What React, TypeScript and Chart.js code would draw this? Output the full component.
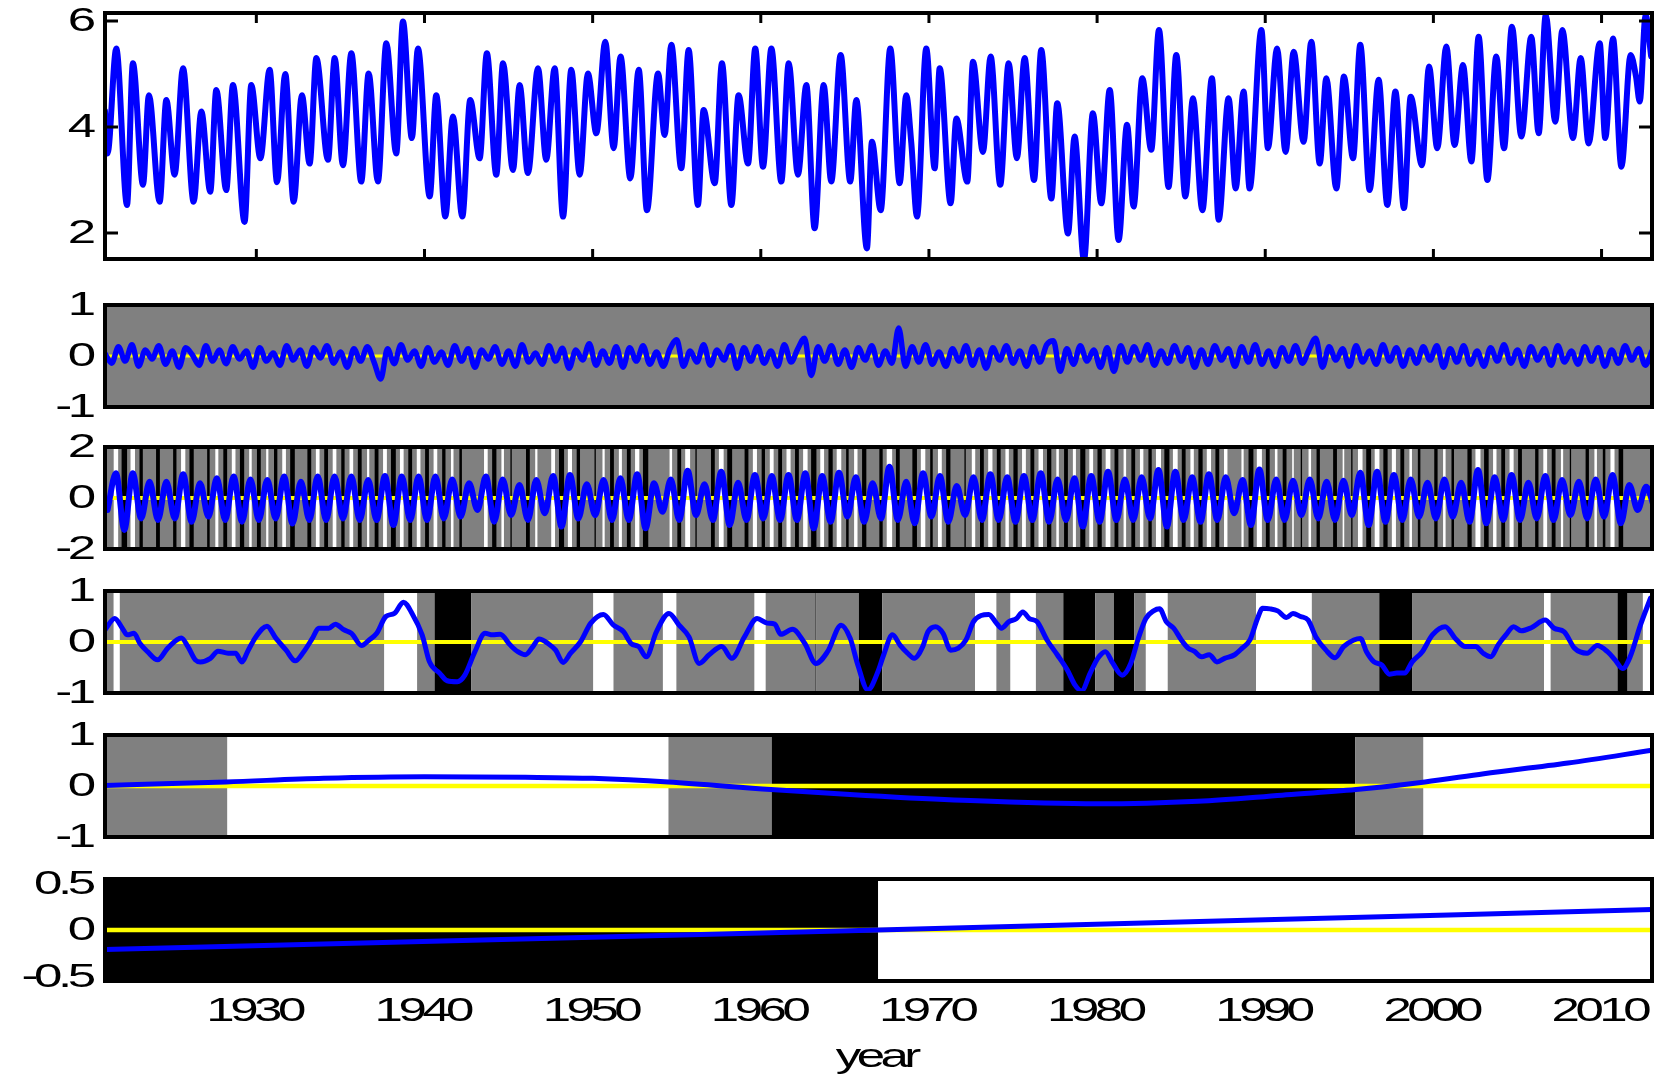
import React, { useEffect, useRef } from "react";
import { Chart, registerables } from "chart.js";

Chart.register(...registerables);

// ---------------- shared x axis ----------------
const X_MIN = 1921.0;
const X_MAX = 2013.0;
const X_TICKS = [1930, 1940, 1950, 1960, 1970, 1980, 1990, 2000, 2010];
const X_TICK_LABELS = ["1930", "1940", "1950", "1960", "1970", "1980", "1990", "2000", "2010"];
const X_TITLE = "year";

// ---------------- panel 1: original series (year, value) ----------------
const P1_POINTS: [number, number][] = [
  [1921.0, 4.3], [1921.15, 3.5], [1921.67, 5.48], [1922.31, 2.53], [1922.66, 5.2], [1923.26, 2.91], [1923.61, 4.6], [1924.25, 2.59], [1924.65, 4.51], [1925.14, 3.1],
  [1925.64, 5.11], [1926.27, 2.59], [1926.73, 4.29], [1927.26, 2.78], [1927.62, 4.7], [1928.21, 2.81], [1928.61, 4.79], [1929.3, 2.21], [1929.7, 4.79], [1930.24, 3.41],
  [1930.79, 5.08], [1931.23, 2.96], [1931.72, 5.0], [1932.22, 2.59], [1932.71, 4.6], [1933.17, 3.31], [1933.57, 5.3], [1934.26, 3.38], [1934.66, 5.3], [1935.15, 3.28],
  [1935.65, 5.39], [1936.24, 2.97], [1936.68, 5.01], [1937.23, 2.97], [1937.73, 5.58], [1938.32, 3.5], [1938.72, 5.99], [1939.25, 3.79], [1939.61, 5.48], [1940.31, 2.69],
  [1940.7, 4.6], [1941.24, 2.31], [1941.69, 4.2], [1942.25, 2.31], [1942.72, 4.51], [1943.28, 3.41], [1943.71, 5.39], [1944.27, 3.1], [1944.67, 5.2], [1945.26, 3.19],
  [1945.66, 4.79], [1946.15, 3.13], [1946.75, 5.11], [1947.24, 3.38], [1947.74, 5.11], [1948.24, 2.31], [1948.73, 5.08], [1949.23, 3.1], [1949.72, 5.01], [1950.22, 3.88],
  [1950.75, 5.61], [1951.25, 3.6], [1951.66, 5.33], [1952.24, 3.03], [1952.74, 5.08], [1953.23, 2.43], [1953.89, 5.01], [1954.28, 3.85], [1954.68, 5.55], [1955.27, 3.22],
  [1955.71, 5.45], [1956.26, 2.53], [1956.6, 4.32], [1957.26, 2.94], [1957.69, 5.2], [1958.25, 2.53], [1958.68, 4.6], [1959.24, 3.31], [1959.67, 5.48], [1960.13, 3.25],
  [1960.63, 5.48], [1961.22, 2.97], [1961.66, 5.2], [1962.21, 3.1], [1962.71, 4.79], [1963.2, 2.09], [1963.74, 4.79], [1964.19, 2.97], [1964.75, 5.36], [1965.32, 2.97],
  [1965.68, 4.51], [1966.31, 1.71], [1966.61, 3.72], [1967.13, 2.43], [1967.7, 5.48], [1968.26, 2.94], [1968.65, 4.6], [1968.95, 3.7], [1969.29, 2.31], [1969.84, 5.48],
  [1970.34, 3.22], [1970.64, 5.11], [1971.29, 2.56], [1971.63, 4.16], [1972.28, 2.97], [1972.62, 5.23], [1973.21, 3.53], [1973.67, 5.33], [1974.24, 2.91], [1974.74, 5.2],
  [1975.23, 3.41], [1975.69, 5.3], [1976.25, 3.0], [1976.68, 5.45], [1977.28, 2.65], [1977.63, 4.45], [1978.27, 1.99], [1978.66, 3.82], [1979.22, 1.49], [1979.75, 4.26],
  [1980.25, 2.56], [1980.75, 4.7], [1981.28, 1.87], [1981.78, 4.04], [1982.17, 2.5], [1982.69, 4.92], [1983.22, 3.57], [1983.68, 5.83], [1984.25, 2.87], [1984.71, 5.36],
  [1985.25, 2.69], [1985.7, 4.54], [1986.26, 2.43], [1986.83, 4.92], [1987.23, 2.25], [1987.82, 4.54], [1988.24, 2.84], [1988.71, 4.67], [1989.07, 2.84], [1989.77, 5.83],
  [1990.16, 3.6], [1990.7, 5.48], [1991.21, 3.53], [1991.69, 5.42], [1992.28, 3.72], [1992.74, 5.61], [1993.24, 3.31], [1993.63, 4.92], [1994.23, 2.84], [1994.68, 4.95],
  [1995.22, 3.41], [1995.65, 5.55], [1996.21, 2.81], [1996.74, 4.89], [1997.26, 2.53], [1997.74, 4.67], [1998.25, 2.47], [1998.65, 4.57], [1999.32, 3.28], [1999.74, 5.14],
  [2000.23, 3.6], [2000.77, 5.52], [2001.26, 3.66], [2001.76, 5.17], [2002.26, 3.35], [2002.69, 5.7], [2003.21, 3.0], [2003.74, 5.33], [2004.2, 3.6], [2004.67, 5.89],
  [2005.23, 3.82], [2005.82, 5.7], [2006.26, 3.88], [2006.68, 6.11], [2007.25, 4.1], [2007.67, 5.83], [2008.3, 3.79], [2008.76, 5.3], [2009.23, 3.69], [2009.89, 5.58],
  [2010.22, 3.79], [2010.68, 5.67], [2011.18, 3.25], [2011.73, 5.36], [2012.05, 4.95], [2012.27, 4.48], [2012.62, 6.11], [2012.95, 5.33],
];
const P1_Y_TICKS = [2, 4, 6];
const P1_Y_LABELS = ["2", "4", "6"];

// ---------------- panel 2: high-frequency component (regular sampling) ----------------
const P2_START = 1921.0;
const P2_STEP = 0.4;
const P2_VALUES = [
  0.05, -0.14, 0.18, -0.1, 0.22, -0.2, 0.12, -0.06, 0.2, -0.16,
  0.1, -0.22, 0.16, 0.02, -0.18, 0.2, -0.1, 0.12, -0.15, 0.18,
  -0.06, 0.1, -0.22, 0.16, -0.1, 0.06, -0.18, 0.2, -0.08, 0.12,
  -0.2, 0.16, -0.04, 0.2, -0.14, 0.08, -0.22, 0.14, -0.1, 0.18,
  -0.12, -0.45, 0.14, -0.15, 0.22, -0.08, 0.1, -0.2, 0.16, -0.12,
  0.08, -0.18, 0.2, -0.1, 0.14, -0.22, 0.12, -0.06, 0.18, -0.16,
  0.1, -0.2, 0.22, -0.12, 0.06, -0.16, 0.2, -0.1, 0.15, -0.24,
  0.12, -0.08, 0.24, -0.18, 0.1, -0.14, 0.18, -0.22, 0.16, -0.1,
  0.2, -0.16, 0.08, -0.2, 0.14, 0.32, -0.2, 0.1, -0.12, 0.22,
  -0.18, 0.12, -0.08, 0.2, -0.24, 0.16, -0.1, 0.18, -0.14, 0.1,
  -0.2, 0.22, -0.12, 0.14, 0.35, -0.38, 0.18, -0.1, 0.2, -0.16,
  0.12, -0.22, 0.16, -0.08, 0.2, -0.18, 0.1, -0.14, 0.55, -0.2,
  0.18, -0.12, 0.22, -0.16, 0.08, -0.2, 0.14, -0.1, 0.2, -0.18,
  0.12, -0.24, 0.16, -0.08, 0.2, -0.14, 0.1, -0.2, 0.18, -0.12,
  0.22, 0.3, -0.3, 0.14, -0.16, 0.2, -0.1, 0.12, -0.22, 0.16,
  -0.3, 0.2, -0.12, 0.18, -0.08, 0.22, -0.18, 0.1, -0.14, 0.2,
  -0.1, 0.16, -0.22, 0.12, -0.16, 0.2, -0.08, 0.14, -0.2, 0.18,
  -0.12, 0.22, -0.16, 0.1, -0.2, 0.16, -0.1, 0.2, -0.14, 0.12,
  0.35, -0.22, 0.18, -0.08, 0.14, -0.2, 0.2, -0.12, 0.1, -0.16,
  0.22, -0.1, 0.16, -0.2, 0.12, -0.14, 0.18, -0.08, 0.2, -0.22,
  0.14, -0.12, 0.2, -0.16, 0.1, -0.2, 0.16, -0.1, 0.22, -0.14,
  0.12, -0.2, 0.18, -0.08, 0.14, -0.18, 0.2, -0.12, 0.1, -0.16,
  0.18, -0.1, 0.16, -0.2, 0.12, -0.14, 0.2, -0.08, 0.14, -0.18,
  0.1,
];
const P2_Y_TICKS = [-1, 0, 1];
const P2_Y_LABELS = ["-1", "0", "1"];
const P2_BAND_EDGES = [1921.0, 2013.0];
const P2_BAND_CLASS = [0];

// ---------------- panel 3: annual component (trough, peak per year) ----------------
const P3_START = 1921.15;
const P3_STEP = 0.5;
const P3_VALUES = [
  -0.47, 0.97, -1.25, 0.97, -0.8, 0.64, -0.86, 0.64, -0.8, 0.93,
  -0.93, 0.58, -0.73, 0.77, -0.86, 0.84, -0.93, 0.73, -0.86, 0.71,
  -0.8, 0.84, -1.0, 0.64, -0.86, 0.84, -0.86, 0.84, -0.8, 0.84,
  -0.86, 0.71, -0.86, 0.86, -1.06, 0.84, -0.86, 0.84, -0.86, 0.84,
  -0.8, 0.73, -0.73, 0.58, -0.47, 0.84, -0.93, 0.73, -0.67, 0.51,
  -0.86, 0.71, -0.6, 0.86, -1.12, 0.9, -0.8, 0.54, -0.67, 0.71,
  -0.86, 0.77, -0.86, 0.93, -1.19, 0.58, -0.54, 0.73, -0.86, 1.07,
  -0.67, 0.54, -0.86, 1.03, -1.06, 0.6, -0.86, 0.9, -0.8, 0.86,
  -0.86, 0.9, -0.86, 0.97, -1.19, 0.86, -0.93, 0.99, -0.73, 0.81,
  -0.93, 0.58, -0.8, 1.23, -0.86, 0.64, -0.99, 0.97, -0.73, 0.86,
  -0.93, 0.47, -0.67, 0.81, -0.86, 0.93, -0.86, 0.81, -0.93, 0.86,
  -0.86, 0.97, -0.93, 0.73, -0.86, 0.77, -1.12, 0.86, -0.93, 1.03,
  -0.86, 0.73, -0.86, 0.81, -0.8, 1.1, -1.12, 1.03, -0.86, 0.81,
  -0.93, 0.93, -0.86, 0.81, -0.6, 0.71, -1.06, 1.12, -0.86, 0.73,
  -0.86, 0.68, -0.67, 0.73, -0.8, 0.64, -0.86, 0.68, -0.67, 0.99,
  -1.06, 1.03, -0.93, 0.9, -0.86, 0.73, -0.73, 0.6, -0.8, 0.73,
  -0.73, 0.6, -0.93, 1.1, -0.99, 0.81, -0.86, 0.9, -0.86, 0.6,
  -0.8, 0.86, -0.86, 0.71, -0.67, 0.64, -0.8, 0.73, -0.73, 0.9,
  -0.99, 0.51, -0.47, 0.44, -0.41,
];
const P3_THRESHOLD = 0.65;
const P3_Y_TICKS = [-2, 0, 2];
const P3_Y_LABELS = ["-2", "0", "2"];

// ---------------- panel 4: interannual component ----------------
const P4_POINTS: [number, number][] = [
  [1921.0, 0.24], [1921.58, 0.46], [1922.03, 0.27], [1922.33, 0.14], [1922.72, 0.17], [1923.08, -0.03], [1923.53, -0.19], [1924.13, -0.35], [1924.73, -0.12], [1925.54, 0.08],
  [1925.93, -0.09], [1926.37, -0.35], [1926.67, -0.39], [1927.27, -0.32], [1927.72, -0.18], [1928.32, -0.22], [1928.77, -0.22], [1929.13, -0.39], [1929.52, -0.16], [1929.97, 0.1],
  [1930.63, 0.31], [1931.17, 0.07], [1931.77, -0.16], [1932.31, -0.37], [1932.82, -0.19], [1933.33, 0.07], [1933.71, 0.27], [1934.31, 0.27], [1934.7, 0.35], [1935.21, 0.24],
  [1935.66, 0.17], [1936.26, -0.07], [1936.71, 0.04], [1937.16, 0.17], [1937.7, 0.5], [1938.21, 0.56], [1938.75, 0.78], [1939.26, 0.56], [1939.86, 0.14], [1940.3, -0.39],
  [1940.9, -0.61], [1941.35, -0.76], [1941.95, -0.78], [1942.4, -0.65], [1943.0, -0.19], [1943.6, 0.17], [1944.05, 0.14], [1944.5, 0.15], [1945.1, -0.06], [1945.55, -0.19],
  [1946.0, -0.25], [1946.45, -0.09], [1946.81, 0.06], [1947.35, -0.03], [1947.8, -0.16], [1948.24, -0.4], [1948.69, -0.22], [1949.29, 0.01], [1949.89, 0.37], [1950.64, 0.54],
  [1951.24, 0.33], [1951.84, 0.2], [1952.29, -0.03], [1952.74, -0.09], [1953.19, -0.29], [1953.79, 0.2], [1954.54, 0.56], [1955.14, 0.33], [1955.73, 0.1], [1956.33, -0.42],
  [1956.93, -0.25], [1957.68, -0.09], [1958.28, -0.32], [1959.03, 0.1], [1959.78, 0.46], [1960.38, 0.37], [1960.83, 0.35], [1961.19, 0.15], [1961.88, 0.25], [1962.62, -0.03],
  [1963.28, -0.42], [1963.97, -0.19], [1964.78, 0.33], [1965.32, 0.07], [1965.77, -0.45], [1966.37, -0.94], [1966.97, -0.58], [1967.31, -0.25], [1967.83, 0.14], [1968.28, -0.06],
  [1968.73, -0.22], [1969.12, -0.32], [1969.63, -0.09], [1969.94, 0.2], [1970.39, 0.3], [1970.84, 0.17], [1971.29, -0.16], [1971.75, -0.12], [1972.2, 0.04], [1972.65, 0.4],
  [1973.1, 0.52], [1973.56, 0.54], [1974.01, 0.37], [1974.31, 0.27], [1974.76, 0.4], [1975.21, 0.46], [1975.58, 0.59], [1975.97, 0.46], [1976.42, 0.4], [1977.02, 0.04],
  [1977.63, -0.25], [1978.23, -0.55], [1978.68, -0.84], [1979.07, -0.96], [1979.59, -0.61], [1980.04, -0.32], [1980.49, -0.19], [1980.94, -0.42], [1981.49, -0.65], [1982.0, -0.42],
  [1982.45, 0.07], [1982.9, 0.46], [1983.36, 0.61], [1983.72, 0.65], [1984.11, 0.4], [1984.56, 0.27], [1985.01, 0.04], [1985.41, -0.12], [1985.77, -0.18], [1986.22, -0.29],
  [1986.67, -0.25], [1987.13, -0.39], [1987.58, -0.32], [1988.18, -0.25], [1988.63, -0.12], [1989.09, 0.04], [1989.54, 0.46], [1989.84, 0.66], [1990.29, 0.65], [1990.74, 0.61],
  [1991.26, 0.48], [1991.65, 0.56], [1992.1, 0.5], [1992.55, 0.43], [1993.01, 0.1], [1993.61, -0.16], [1994.15, -0.31], [1994.66, -0.09], [1995.27, 0.04], [1995.66, 0.07],
  [1996.02, -0.19], [1996.47, -0.39], [1996.93, -0.45], [1997.38, -0.63], [1997.83, -0.61], [1998.28, -0.61], [1998.74, -0.39], [1999.34, -0.19], [1999.94, 0.14], [2000.7, 0.3],
  [2001.3, 0.07], [2001.9, -0.09], [2002.51, -0.09], [2002.96, -0.22], [2003.41, -0.29], [2003.86, -0.05], [2004.31, 0.14], [2004.77, 0.3], [2005.22, 0.22], [2005.82, 0.28],
  [2006.64, 0.43], [2007.18, 0.27], [2007.78, 0.2], [2008.39, -0.12], [2009.14, -0.22], [2009.74, -0.07], [2010.35, -0.19], [2010.8, -0.35], [2011.25, -0.52], [2011.7, -0.29],
  [2012.31, 0.33], [2012.91, 0.86],
];
const P4_Y_TICKS = [-1, 0, 1];
const P4_Y_LABELS = ["-1", "0", "1"];
const P4_BAND_EDGES = [
  1921.0, 1921.52, 1921.88, 1937.61, 1939.56, 1940.6, 1942.79, 1950.04, 1951.24, 1954.18,
  1954.98, 1959.63, 1960.29, 1963.25, 1963.31, 1965.83, 1967.22, 1972.74, 1974.01, 1974.85,
  1976.36, 1977.99, 1979.89, 1981.0, 1982.21, 1982.9, 1984.2, 1989.45, 1992.77, 1996.78,
  1998.73, 2006.58, 2006.97, 2010.95, 2011.55, 2012.46, 2013.0,
];
const P4_BAND_CLASS = [
  0, 1, 0, 1, 0, -1, 0, 1, 0, 1,
  0, 1, 0, -1, 0, -1, 0, 1, 0, 1,
  0, -1, 0, -1, 0, 1, 0, 1, 0, -1,
  0, 1, 0, -1, 0, 1,
];

// ---------------- panel 5: decadal component ----------------
const P5_POINTS: [number, number][] = [
  [1921.0, 0.01], [1928.2, 0.08], [1934.0, 0.15], [1940.0, 0.18], [1946.0, 0.17], [1950.0, 0.15], [1954.5, 0.08], [1960.6, -0.07], [1966.0, -0.18],
  [1972.0, -0.28], [1980.0, -0.35], [1986.0, -0.3], [1991.0, -0.18], [1995.4, -0.07], [1999.5, 0.08], [2003.0, 0.24], [2008.0, 0.45], [2013.0, 0.7],
];
const P5_Y_TICKS = [-1, 0, 1];
const P5_Y_LABELS = ["-1", "0", "1"];
const P5_BAND_EDGES = [1921.0, 1928.28, 1954.51, 1960.65, 1995.36, 1999.41, 2013.0];
const P5_BAND_CLASS = [0, 1, 0, -1, 0, 1];

// ---------------- panel 6: trend ----------------
const P6_POINTS: [number, number][] = [
  [1921.0, -0.21], [1944.0, -0.105], [1967.0, 0.0], [1990.0, 0.11], [2013.0, 0.22],
];
const P6_Y_TICKS = [-0.5, 0, 0.5];
const P6_Y_LABELS = ["-0.5", "0", "0.5"];
const P6_BAND_EDGES = [1921.0, 1966.98, 2013.0];
const P6_BAND_CLASS = [-1, 1];

// ---------------- helpers ----------------
type Band = { from: number; to: number; cls: number };

function bandsFromEdges(edges: number[], classes: number[]): Band[] {
  return classes.map((c, i) => ({ from: edges[i], to: edges[i + 1], cls: c }));
}

// stripes where the annual cycle exceeds the threshold around each extreme
function stripesFromExtremes(start: number, step: number, values: number[], thr: number): Band[] {
  const out: Band[] = [];
  values.forEach((v, i) => {
    const a = Math.abs(v);
    if (a > thr) {
      const half = Math.acos(thr / a) / (2 * Math.PI);
      const x = start + i * step;
      out.push({ from: x - half, to: x + half, cls: v > 0 ? 1 : -1 });
    }
  });
  return out;
}

const toXY = (pts: [number, number][]) => pts.map(([x, y]) => ({ x, y }));
const regularXY = (start: number, step: number, vals: number[]) => vals.map((y, i) => ({ x: start + i * step, y }));

const CLASS_COLOR: Record<string, string> = { "1": "#ffffff", "0": "#808080", "-1": "#000000" };
const FONT = '"Liberation Sans", Arial, Helvetica, sans-serif';
const FONT_SIZE = 34;
const TEXT_SX = 1.5;
const TEXT_LS = -3;

function drawWideText(ctx: any, text: string, x: number, y: number, align: string) {
  ctx.save();
  ctx.font = `${FONT_SIZE}px ${FONT}`;
  try { ctx.letterSpacing = `${TEXT_LS}px`; } catch (e) { /* ignore */ }
  const w = ctx.measureText(text).width - TEXT_LS;
  ctx.translate(x, y);
  ctx.scale(TEXT_SX, 1);
  ctx.textBaseline = "middle";
  ctx.textAlign = "left";
  ctx.fillStyle = "#000";
  const dx = align === "right" ? -w : -w / 2;
  ctx.fillText(text, dx, 1);
  ctx.restore();
}

type PanelCfg = {
  top: number;
  height: number;
  padTop: number;
  padBottom: number;
  yMin: number;
  yMax: number;
  yTicks: number[];
  yLabels: string[];
  points: { x: number; y: number }[];
  lineWidth: number;
  zeroWidth: number;
  bands: Band[];
  baseColor: string | null;
  zeroLine: boolean;
  innerTicks: boolean;
  xLabels: boolean;
};

function makeDecor(cfg: PanelCfg) {
  return {
    id: "panelDecor",
    beforeDatasetsDraw(chart: any) {
      const { ctx, chartArea: a } = chart;
      const xs = chart.scales.x;
      ctx.save();
      ctx.beginPath();
      ctx.rect(a.left, a.top, a.right - a.left, a.bottom - a.top);
      ctx.clip();
      if (cfg.baseColor) {
        ctx.fillStyle = cfg.baseColor;
        ctx.fillRect(a.left, a.top, a.right - a.left, a.bottom - a.top);
      }
      for (const b of cfg.bands) {
        const x0 = xs.getPixelForValue(b.from);
        const x1 = xs.getPixelForValue(b.to);
        ctx.fillStyle = CLASS_COLOR[String(b.cls)];
        ctx.fillRect(x0, a.top, x1 - x0, a.bottom - a.top);
      }
      ctx.restore();
    },
    afterDatasetsDraw(chart: any) {
      const { ctx, chartArea: a } = chart;
      const xs = chart.scales.x;
      const ys = chart.scales.y;
      ctx.save();
      ctx.strokeStyle = "#000";
      ctx.lineWidth = 3;
      if (cfg.innerTicks) {
        ctx.beginPath();
        for (const t of X_TICKS) {
          const px = xs.getPixelForValue(t);
          ctx.moveTo(px, a.top);
          ctx.lineTo(px, a.top + 10);
          ctx.moveTo(px, a.bottom);
          ctx.lineTo(px, a.bottom - 10);
        }
        for (const t of cfg.yTicks) {
          const py = ys.getPixelForValue(t);
          ctx.moveTo(a.left, py);
          ctx.lineTo(a.left + 13, py);
          ctx.moveTo(a.right, py);
          ctx.lineTo(a.right - 13, py);
        }
        ctx.stroke();
      }
      ctx.lineWidth = 4;
      ctx.strokeRect(a.left, a.top, a.right - a.left, a.bottom - a.top);
      cfg.yTicks.forEach((t, i) => drawWideText(ctx, cfg.yLabels[i], a.left - 9, ys.getPixelForValue(t), "right"));
      if (cfg.xLabels) {
        X_TICKS.forEach((t, i) => drawWideText(ctx, X_TICK_LABELS[i], xs.getPixelForValue(t), a.bottom + 30, "center"));
        drawWideText(ctx, X_TITLE, (a.left + a.right) / 2, a.bottom + 76, "center");
      }
      ctx.restore();
    },
  };
}

const PANELS: PanelCfg[] = [
  {
    top: 0, height: 279, padTop: 13, padBottom: 20, yMin: 1.51, yMax: 6.15,
    yTicks: P1_Y_TICKS, yLabels: P1_Y_LABELS, points: toXY(P1_POINTS), lineWidth: 6, zeroWidth: 0,
    bands: [], baseColor: null, zeroLine: false, innerTicks: true, xLabels: false,
  },
  {
    top: 285, height: 142, padTop: 20, padBottom: 20, yMin: -1, yMax: 1,
    yTicks: P2_Y_TICKS, yLabels: P2_Y_LABELS, points: regularXY(P2_START, P2_STEP, P2_VALUES), lineWidth: 5.5, zeroWidth: 3,
    bands: bandsFromEdges(P2_BAND_EDGES, P2_BAND_CLASS), baseColor: null, zeroLine: true, innerTicks: false, xLabels: false,
  },
  {
    top: 427, height: 142, padTop: 20, padBottom: 20, yMin: -2, yMax: 2,
    yTicks: P3_Y_TICKS, yLabels: P3_Y_LABELS, points: regularXY(P3_START, P3_STEP, P3_VALUES), lineWidth: 6, zeroWidth: 4,
    bands: stripesFromExtremes(P3_START, P3_STEP, P3_VALUES, P3_THRESHOLD), baseColor: "#808080", zeroLine: true, innerTicks: false, xLabels: false,
  },
  {
    top: 569, height: 144, padTop: 22, padBottom: 20, yMin: -1, yMax: 1,
    yTicks: P4_Y_TICKS, yLabels: P4_Y_LABELS, points: toXY(P4_POINTS), lineWidth: 5, zeroWidth: 4,
    bands: bandsFromEdges(P4_BAND_EDGES, P4_BAND_CLASS), baseColor: null, zeroLine: true, innerTicks: false, xLabels: false,
  },
  {
    top: 713, height: 144, padTop: 22, padBottom: 20, yMin: -1, yMax: 1,
    yTicks: P5_Y_TICKS, yLabels: P5_Y_LABELS, points: toXY(P5_POINTS), lineWidth: 5, zeroWidth: 4.5,
    bands: bandsFromEdges(P5_BAND_EDGES, P5_BAND_CLASS), baseColor: null, zeroLine: true, innerTicks: false, xLabels: false,
  },
  {
    top: 857, height: 225, padTop: 22, padBottom: 101, yMin: -0.55, yMax: 0.55,
    yTicks: P6_Y_TICKS, yLabels: P6_Y_LABELS, points: toXY(P6_POINTS), lineWidth: 5, zeroWidth: 4.5,
    bands: bandsFromEdges(P6_BAND_EDGES, P6_BAND_CLASS), baseColor: null, zeroLine: true, innerTicks: false, xLabels: true,
  },
];

export default function App() {
  const refs = useRef<(HTMLCanvasElement | null)[]>([]);

  useEffect(() => {
    const charts: Chart[] = [];
    PANELS.forEach((cfg, i) => {
      const canvas = refs.current[i];
      if (!canvas) return;
      const datasets: any[] = [
        {
          data: cfg.points,
          borderColor: "#0000ff",
          borderWidth: cfg.lineWidth,
          pointRadius: 0,
          cubicInterpolationMode: "monotone",
          fill: false,
          borderJoinStyle: "round",
          borderCapStyle: "round",
        },
      ];
      if (cfg.zeroLine) {
        datasets.push({
          data: [{ x: X_MIN, y: 0 }, { x: X_MAX, y: 0 }],
          borderColor: "#ffff00",
          borderWidth: cfg.zeroWidth,
          pointRadius: 0,
          fill: false,
        });
      }
      const chart = new Chart(canvas, {
        type: "line",
        data: { datasets },
        options: {
          responsive: false,
          animation: false,
          devicePixelRatio: 1,
          events: [],
          layout: { padding: { left: 105, right: 18, top: cfg.padTop, bottom: cfg.padBottom } },
          scales: {
            x: { type: "linear", min: X_MIN, max: X_MAX, display: false },
            y: { type: "linear", min: cfg.yMin, max: cfg.yMax, display: false },
          },
          plugins: { legend: { display: false }, tooltip: { enabled: false } },
        } as any,
        plugins: [makeDecor(cfg) as any],
      });
      charts.push(chart);
    });
    return () => charts.forEach((c) => c.destroy());
  }, []);

  return (
    <div style={{ position: "absolute", left: 0, top: 0, width: 1670, height: 1082, background: "#ffffff", overflow: "hidden" }}>
      {PANELS.map((cfg, i) => (
        <canvas
          key={i}
          ref={(el) => { refs.current[i] = el; }}
          width={1670}
          height={cfg.height}
          style={{ position: "absolute", left: 0, top: cfg.top, width: 1670, height: cfg.height }}
        />
      ))}
    </div>
  );
}
